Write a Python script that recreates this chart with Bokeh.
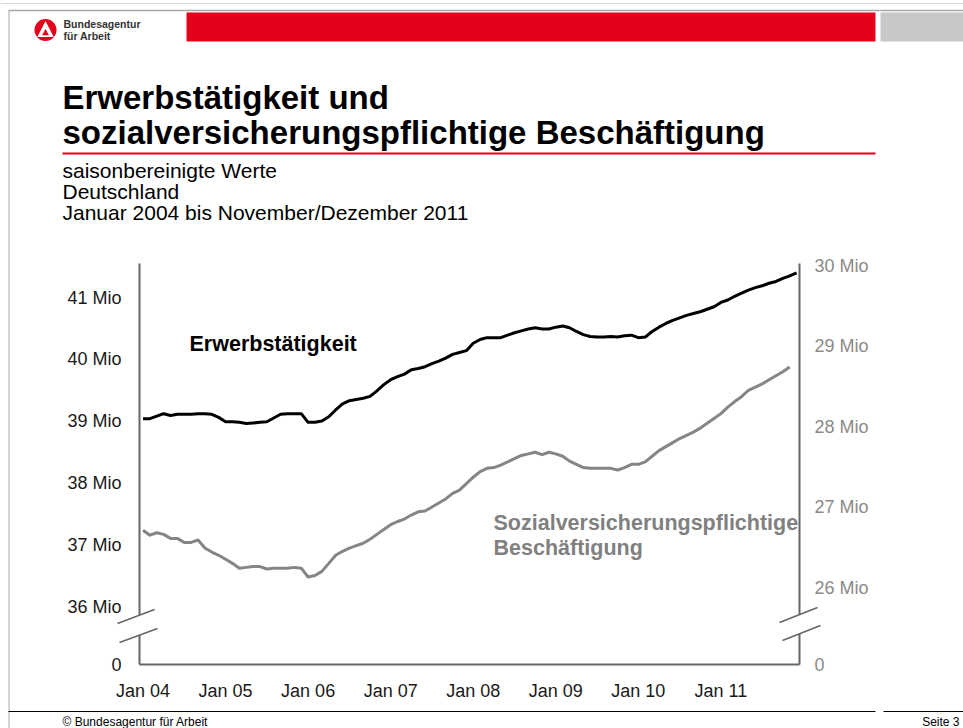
from bokeh.plotting import figure
from bokeh.models import Range1d, LinearAxis, FixedTicker, CustomJSTickFormatter
from bokeh.embed import file_html
from bokeh.resources import INLINE
from bokeh.core.properties import value

FONT = "Liberation Sans"

# ---------------- data (Mio, saisonbereinigt) ----------------
# Erwerbstätigkeit, Jan 2004 - Dez 2011 (left axis)
erwerb = [
    39.04, 39.04, 39.08, 39.12, 39.09, 39.11, 39.11, 39.11, 39.12, 39.12, 39.11, 39.06,
    38.99, 38.99, 38.98, 38.96, 38.97, 38.98, 38.99, 39.05, 39.11, 39.12, 39.12, 39.12,
    38.98, 38.98, 39.00, 39.07, 39.18, 39.28, 39.33, 39.35, 39.37, 39.40, 39.49, 39.59,
    39.67, 39.72, 39.76, 39.83, 39.85, 39.88, 39.93, 39.97, 40.02, 40.08, 40.11, 40.14,
    40.26, 40.32, 40.35, 40.35, 40.35, 40.39, 40.43, 40.46, 40.49, 40.51, 40.49, 40.49,
    40.52, 40.54, 40.51, 40.45, 40.40, 40.37, 40.36, 40.36, 40.37, 40.36, 40.38, 40.39,
    40.35, 40.36, 40.45, 40.52, 40.58, 40.63, 40.67, 40.71, 40.74, 40.77, 40.81, 40.85,
    40.92, 40.96, 41.02, 41.07, 41.12, 41.16, 41.19, 41.23, 41.26, 41.31, 41.35, 41.40,
]
# Sozialversicherungspflichtige Beschäftigung, Jan 2004 - Nov 2011 (right axis)
svb = [
    26.71, 26.65, 26.68, 26.66, 26.61, 26.61, 26.56, 26.56, 26.59, 26.49, 26.44, 26.40,
    26.35, 26.30, 26.24, 26.25, 26.26, 26.26, 26.23, 26.24, 26.24, 26.24, 26.25, 26.24,
    26.13, 26.15, 26.20, 26.30, 26.40, 26.45, 26.49, 26.52, 26.55, 26.60, 26.66, 26.72,
    26.78, 26.82, 26.85, 26.90, 26.94, 26.95, 27.00, 27.05, 27.10, 27.17, 27.21, 27.29,
    27.37, 27.44, 27.48, 27.49, 27.52, 27.56, 27.60, 27.64, 27.66, 27.68, 27.65, 27.68,
    27.66, 27.63, 27.57, 27.53, 27.49, 27.48, 27.48, 27.48, 27.48, 27.46, 27.49, 27.53,
    27.53, 27.56, 27.63, 27.70, 27.75, 27.80, 27.85, 27.89, 27.93, 27.98, 28.04, 28.10,
    28.16, 28.24, 28.31, 28.37, 28.45, 28.49, 28.53, 28.58, 28.63, 28.68, 28.74,
]
months_et = list(range(len(erwerb)))
months_sv = list(range(len(svb)))

xtick_pos = [0, 12, 24, 36, 48, 60, 72, 84]
xtick_labels = ["Jan 04", "Jan 05", "Jan 06", "Jan 07", "Jan 08", "Jan 09", "Jan 10", "Jan 11"]
left_ticks = [36, 37, 38, 39, 40, 41]
right_ticks = [26, 27, 28, 29, 30]

title_lines = ["Erwerbstätigkeit und", "sozialversicherungspflichtige Beschäftigung"]
subtitle_lines = ["saisonbereinigte Werte", "Deutschland", "Januar 2004 bis November/Dezember 2011"]

# ---------------- page geometry (pixels) ----------------
W, H = 963, 728
RED = "#E3001B"
GREY_LINE = "#858585"
AXIS_GREY = "#666666"
FRAME_GREY = "#a8a8a8"

PX_JAN04, PX_PER_MONTH = 142.5, 6.88         # x position of Jan 04, pixels per month
AX_L, AX_R, AX_TOP, AX_BOT = 139, 799, 263, 664   # chart axes box
L_REF_PX, L_REF_V, L_PX_PER = 606, 36, 61.8  # left axis: 36 Mio at y=606
R_REF_PX, R_REF_V, R_PX_PER = 587, 26, 80.5  # right axis: 26 Mio at y=587


def mx(px):      # pixel x -> month
    return (px - PX_JAN04) / PX_PER_MONTH


def lv(py):      # pixel y -> left axis value
    return L_REF_V + (L_REF_PX - py) / L_PX_PER


def rv(py):      # pixel y -> right axis value
    return R_REF_V + (R_REF_PX - py) / R_PX_PER


p = figure(width=W, height=H, x_range=Range1d(mx(0), mx(W)), y_range=Range1d(lv(H), lv(0)),
           output_backend="svg", toolbar_location=None, min_border=0,
           x_axis_location=None, y_axis_location=None)
p.grid.visible = False
p.outline_line_color = None
p.background_fill_color = "white"
p.border_fill_color = "white"
p.extra_x_ranges = {"px": Range1d(0, W)}
p.extra_y_ranges = {"px": Range1d(H, 0), "sv": Range1d(rv(H), rv(0))}
PX = dict(x_range_name="px", y_range_name="px")

# ---------------- slide decoration ----------------
p.line([0, W], [3, 3], line_color="#d8d8d8", line_width=1, **PX)
p.line([8, W], [10, 10], line_color=FRAME_GREY, line_width=1.5, **PX)
p.line([8.5, 8.5], [10, H], line_color=FRAME_GREY, line_width=1, **PX)
# logo
p.circle(x=[45], y=[29.5], radius=11, fill_color=RED, line_color=None, **PX)
p.patch([45, 36.8, 53.2], [20.5, 36.5, 36.5], fill_color="white", line_color=None, **PX)
p.patch([45, 41.6, 48.4], [28.5, 34.8, 34.8], fill_color=RED, line_color=None, **PX)
p.text(x=[63, 63], y=[23, 35], text=["Bundesagentur", "für Arbeit"],
       text_font=value(FONT), text_font_size="10.5px", text_font_style="bold",
       text_color="#333333", text_baseline="middle", **PX)
# bars
p.quad(left=186, right=875, top=12, bottom=41, fill_color=RED, line_color=None, **PX)
p.quad(left=880, right=W, top=12, bottom=41, fill_color="#C8C8C8", line_color=None, **PX)
# title
p.text(x=[62, 62], y=[97, 132], text=title_lines, text_font=value(FONT),
       text_font_size="33px", text_font_style="bold", text_color="#000000",
       text_baseline="alphabetic", **PX)
p.line([62, 875], [153, 153], line_color=RED, line_width=2, **PX)
p.text(x=[62, 62, 62], y=[170, 191, 212], text=subtitle_lines, text_font=value(FONT),
       text_font_size="21px", text_color="#000000", text_baseline="alphabetic", **PX)
# footer
p.line([8, 875], [711, 711], line_color="#000000", line_width=1, **PX)
p.line([883, W], [711, 711], line_color="#000000", line_width=1, **PX)
p.text(x=[62], y=[721], text=["© Bundesagentur für Arbeit"], text_font=value(FONT),
       text_font_size="12px", text_color="#000000", text_baseline="middle", **PX)
p.text(x=[959], y=[721], text=["Seite 3"], text_font=value(FONT), text_align="right",
       text_font_size="12px", text_color="#000000", text_baseline="middle", **PX)

# ---------------- data lines ----------------
p.line(months_et, erwerb, line_color="#000000", line_width=3, line_join="round")
p.line(months_sv, svb, line_color=GREY_LINE, line_width=3, line_join="round", y_range_name="sv")

# ---------------- axes ----------------
yl = LinearAxis(fixed_location=mx(AX_L), bounds=(lv(AX_BOT), lv(AX_TOP)))
yl.ticker = FixedTicker(ticks=[lv(AX_BOT)] + left_ticks)
yl.formatter = CustomJSTickFormatter(code="return tick < 35.5 ? '0' : tick.toFixed(0) + ' Mio';")
yl.major_label_text_color = "#1a1a1a"
yl.major_label_standoff = 18

yr = LinearAxis(y_range_name="sv", fixed_location=mx(AX_R), bounds=(rv(AX_BOT), rv(AX_TOP)))
yr.ticker = FixedTicker(ticks=[rv(AX_BOT)] + right_ticks)
yr.formatter = CustomJSTickFormatter(code="return tick < 25.5 ? '0' : tick.toFixed(0) + ' Mio';")
yr.major_label_text_color = "#8a8a8a"
yr.major_label_standoff = 15

xa = LinearAxis(fixed_location=lv(AX_BOT), bounds=(mx(AX_L), mx(AX_R)))
xa.ticker = FixedTicker(ticks=xtick_pos)
xa.major_label_overrides = dict(zip(xtick_pos, xtick_labels))
xa.major_label_text_color = "#1a1a1a"
xa.major_label_standoff = 16

for ax in (yl, yr, xa):
    ax.axis_line_color = AXIS_GREY
    ax.axis_line_width = 2
    ax.major_tick_line_color = None
    ax.minor_tick_line_color = None
    ax.major_tick_out = 0
    ax.major_tick_in = 0
    ax.minor_tick_out = 0
    ax.minor_tick_in = 0
    ax.major_label_text_font = FONT
    ax.major_label_text_font_size = "18px"

p.add_layout(yl, "left")
p.add_layout(yr, "right")
p.add_layout(xa, "below")

# ---------------- axis breaks ----------------
for (ax1, ay1, bx1, by1, ax2, ay2, bx2, by2) in [
    (117, 623, 154, 609, 119, 642, 157, 628),
    (779, 622, 817, 607, 782, 640, 820, 625),
]:
    p.patch([ax1, bx1, bx2, ax2], [ay1, by1, by2, ay2], fill_color="white",
            line_color=None, level="overlay", **PX)
    p.line([ax1, bx1], [ay1, by1], line_color=AXIS_GREY, line_width=1.5, level="overlay", **PX)
    p.line([ax2, bx2], [ay2, by2], line_color=AXIS_GREY, line_width=1.5, level="overlay", **PX)

# ---------------- series labels ----------------
p.text(x=[189], y=[343], text=["Erwerbstätigkeit"], text_font=value(FONT),
       text_font_size="21.5px", text_font_style="bold", text_color="#000000",
       text_baseline="alphabetic", **PX)
p.text(x=[493, 493], y=[522, 547], text=["Sozialversicherungspflichtige", "Beschäftigung"],
       text_font=value(FONT), text_font_size="21.5px", text_font_style="bold",
       text_color="#808080", text_baseline="alphabetic", **PX)

open("out.html", "w").write(file_html(p, INLINE))
